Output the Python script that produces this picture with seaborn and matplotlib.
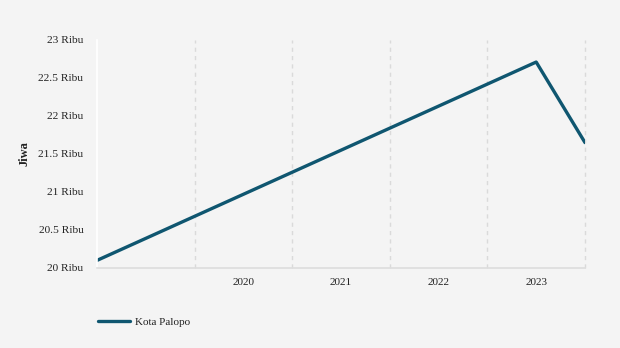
import matplotlib
matplotlib.use("Agg")
import matplotlib.pyplot as plt
import seaborn as sns
import pandas as pd
from matplotlib.ticker import FixedLocator, FuncFormatter

# Data
years = [2019.0, 2023.5, 2024.0]
population = [20100, 22710, 21650]
series_name = "Kota Palopo"
year_labels = ["2020", "2021", "2022", "2023"]
y_ticks = [20000, 20500, 21000, 21500, 22000, 22500, 23000]

df = pd.DataFrame({"Tahun": years, "Jiwa": population, "Wilayah": series_name})

sns.set_theme(style="white")
plt.rcParams["font.family"] = ["Liberation Serif", "DejaVu Serif"]

bg = "#f4f4f4"
fig = plt.figure(figsize=(6.2, 3.48), dpi=100, facecolor=bg)
ax = fig.add_axes([97 / 620, 1 - 268 / 348, (585 - 97) / 620, (268 - 40) / 348])
ax.set_facecolor(bg)

sns.lineplot(data=df, x="Tahun", y="Jiwa", hue="Wilayah", palette=["#0f5670"],
             linewidth=2.4, ax=ax, legend=True)

ax.set_xlim(2019, 2024)
ax.set_ylim(20000, 23000)

# x: gridlines at year boundaries, labels centred in each year
ax.xaxis.set_major_locator(FixedLocator([2020, 2021, 2022, 2023, 2024]))
ax.xaxis.set_major_formatter(FuncFormatter(lambda v, p: ""))
ax.xaxis.set_minor_locator(FixedLocator([int(l) + 0.5 for l in year_labels]))
ax.xaxis.set_minor_formatter(FuncFormatter(lambda v, p: str(int(v))))
ax.tick_params(axis="x", which="major", length=5, color="#d8d8d8", width=1)
ax.tick_params(axis="x", which="minor", length=0, labelsize=8, labelcolor="#222222", pad=7)
ax.grid(axis="x", which="major", color="#dadada", linestyle=(0, (3, 3)), linewidth=1)
for gl in ax.get_xgridlines():
    gl.set_clip_on(False)

ax.yaxis.set_major_locator(FixedLocator(y_ticks))
ax.yaxis.set_major_formatter(FuncFormatter(lambda v, p: f"{v/1000:g} Ribu"))
ax.tick_params(axis="y", length=4, color="white", width=1, labelsize=8.2,
               labelcolor="#222222", pad=5.8)

for s in ["top", "right"]:
    ax.spines[s].set_visible(False)
ax.spines["left"].set_color("white")
ax.spines["left"].set_linewidth(1.2)
ax.spines["bottom"].set_color("#dddddd")
ax.spines["bottom"].set_linewidth(1.2)

ax.set_xlabel("")
ax.set_ylabel("Jiwa", fontsize=9, fontweight="bold", color="#222222")
ax.yaxis.set_label_coords(-66 / 488, 0.5)

handles, labels = ax.get_legend_handles_labels()
ax.legend(handles, labels, loc="upper left", bbox_to_anchor=(-3 / 488, -0.195),
          frameon=False, fontsize=8, handlelength=2.8, handletextpad=0.5,
          borderaxespad=0, labelcolor="#222222")

fig.savefig("out.png", dpi=100, facecolor=bg)
